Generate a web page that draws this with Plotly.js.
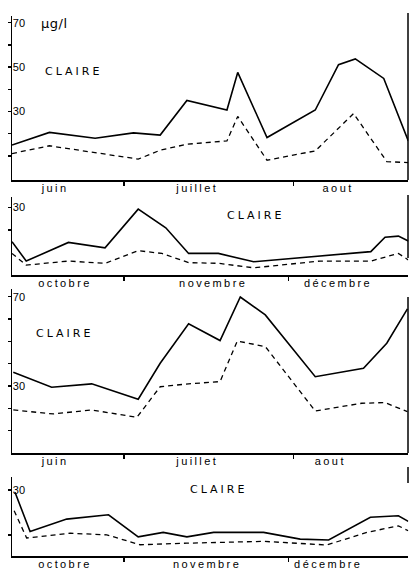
<!DOCTYPE html>
<html>
<head>
<meta charset="utf-8">
<script src="https://cdn.plot.ly/plotly-3.0.1.min.js"></script>
<style>
  html, body { margin: 0; padding: 0; background: #fff; }
  #chart { width: 410px; height: 569px; }
  g.xtick text, g.x2tick text, g.x3tick text, g.x4tick text { letter-spacing: 2.4px; }
  .annotation-text { letter-spacing: 3px; }
  g.annotation[data-index="0"] .annotation-text { letter-spacing: 0.5px; }
</style>
</head>
<body>
<div id="chart"></div>
<script>
// ---- Panel 1 : juin - aout (year 1), x = day from 1 June
const p1SolidX  = [0, 8.7, 19.3, 28.2, 34.4, 40.6, 49.9, 52.4, 59.2, 70.4, 75.8, 79.7, 86.3, 92];
const p1SolidY  = [14.9, 20.6, 18.0, 20.4, 19.4, 35.0, 30.7, 47.6, 18.3, 30.7, 51.1, 53.7, 44.9, 16.8];
const p1DashX   = [0, 8.7, 29.3, 34.4, 40.6, 49.9, 52.4, 59.2, 70.4, 79.3, 87.0, 92];
const p1DashY   = [11.1, 14.6, 8.6, 12.6, 15.3, 16.8, 27.8, 8.1, 12.3, 29.1, 7.5, 7.0];

// ---- Panel 2 : octobre - decembre (year 1), x = day from 1 October
const p2SolidX  = [0, 3.3, 13.1, 21.6, 29.3, 35.7, 41.0, 47.9, 56.1, 83.3, 86.6, 89.7, 92];
const p2SolidY  = [14.8, 6.2, 14.5, 12.1, 29.3, 21.0, 9.6, 9.6, 5.9, 10.4, 16.8, 17.3, 15.1];
const p2DashX   = [0, 3.3, 13.1, 21.6, 29.3, 34.8, 41.0, 47.9, 56.1, 71.5, 83.3, 89.7, 92];
const p2DashY   = [9.6, 4.4, 6.2, 5.2, 10.8, 9.6, 5.5, 5.2, 3.2, 6.2, 6.2, 9.6, 6.7];

// ---- Panel 3 : juin - aout (year 2)
const p3SolidX  = [0.3, 9.2, 18.5, 29.3, 34.4, 41.0, 48.3, 53.0, 58.8, 70.4, 81.6, 87.0, 91.8];
const p3SolidY  = [36.2, 29.5, 31.0, 24.1, 40.2, 57.9, 50.4, 69.9, 61.9, 34.2, 38.0, 49.2, 64.6];
const p3DashX   = [0.3, 9.6, 18.5, 29.0, 34.4, 41.0, 48.3, 52.3, 58.8, 70.4, 81.2, 86.6, 91.8];
const p3DashY   = [19.3, 17.5, 19.3, 16.0, 29.7, 31.0, 32.0, 50.2, 47.7, 18.8, 22.3, 22.6, 18.5];

// ---- Panel 4 : octobre - decembre (year 2)
const p4SolidX  = [0.7, 4.2, 12.7, 22.4, 29.3, 35.1, 40.6, 46.8, 58.4, 66.9, 73.5, 83.2, 89.7, 92];
const p4SolidY  = [29.0, 11.6, 17.1, 19.0, 9.2, 11.2, 9.2, 11.2, 11.2, 8.2, 7.8, 17.9, 18.6, 16.1];
const p4DashX   = [0.5, 3.4, 13.5, 22.0, 29.7, 40.6, 58.4, 73.1, 82.4, 89.7, 92];
const p4DashY   = [20.8, 8.7, 10.8, 10.1, 5.7, 6.4, 7.2, 5.6, 11.2, 14.1, 11.9];

// ---- Tick labels
const summerMonths    = ["juin", "juillet", "aout"];
const summerLabelPos  = [10, 43, 75.7];
const summerLabelPos2 = [10, 43, 73.9];
const summerBounds    = [26.0, 65.3];
const autumnMonths    = ["octobre", "novembre", "décembre"];
const autumnLabelPos  = [12.3, 46.7, 75.7];
const autumnLabelPos2 = [12.3, 45.3, 73.4];
const autumnBounds    = [26.0, 64.1];

const y1TickVals = [10, 20, 30, 40, 50, 60, 70];
const y1TickText = ["", "", "30", "", "50", "", "70"];
const y2TickVals = [20, 30];
const y2TickText = ["", "30"];
const y3TickVals = [10, 20, 30, 40, 50, 60, 70];
const y3TickText = ["", "", "30", "", "", "", "70"];
const y4TickVals = [10, 30];
const y4TickText = ["", "30"];

const unitLabel = "μg/l";
const stationLabel = "CLAIRE";

// ---- geometry helpers (pixel -> paper)
const H = 569, W = 410;
const py = p => 1 - p / H;
const px = p => p / W;

const solid = {color: "#000", width: 1.6};
const dashed = {color: "#000", width: 1.3, dash: "5px,4px"};

function tr(x, y, line, ax) {
  return {x: x, y: y, type: "scatter", mode: "lines", line: line,
          xaxis: "x" + ax, yaxis: "y" + ax, hoverinfo: "skip", showlegend: false};
}

const data = [
  tr(p1SolidX, p1SolidY, solid, ""), tr(p1DashX, p1DashY, dashed, ""),
  tr(p2SolidX, p2SolidY, solid, "2"), tr(p2DashX, p2DashY, dashed, "2"),
  tr(p3SolidX, p3SolidY, solid, "3"), tr(p3DashX, p3DashY, dashed, "3"),
  tr(p4SolidX, p4SolidY, solid, "4"), tr(p4DashX, p4DashY, dashed, "4")
];

const tickFont = {family: "Liberation Sans, Arial, sans-serif", size: 11, color: "#000000"};

function xa(anchor, labels, pos, bounds) {
  return {
    domain: [px(12), px(408.3)], range: [0, 92], anchor: anchor,
    showgrid: false, zeroline: false, showline: true, linecolor: "#000", linewidth: 1.5,
    tickmode: "array", tickvals: pos, ticktext: labels, ticks: "",
    tickfont: tickFont, ticklabelstandoff: -3,
    minor: {tickmode: "array", tickvals: bounds, ticks: "outside", ticklen: 4,
            tickwidth: 1.2, tickcolor: "#000", showgrid: false},
    fixedrange: true
  };
}
function ya(anchor, top, bottom, range, tv, tt) {
  return {
    domain: [py(bottom), py(top)], range: range, anchor: anchor,
    showgrid: false, zeroline: false, showline: true, linecolor: "#000", linewidth: 1.5,
    tickmode: "array", tickvals: tv, ticktext: tt,
    ticks: "outside", ticklen: 3, tickwidth: 1.3, tickcolor: "#000",
    ticklabelposition: "inside", tickfont: tickFont, fixedrange: true
  };
}

function rightLine(top, bottom) {
  return {type: "line", xref: "paper", yref: "paper", x0: px(408), x1: px(408),
          y0: py(top), y1: py(bottom), line: {color: "#000", width: 1.5}};
}

const annFont = {family: "DejaVu Sans, sans-serif", size: 11, color: "#000"};
function claire(x, y) {
  return {text: stationLabel, xref: "paper", yref: "paper", x: px(x), y: py(y),
          xanchor: "center", yanchor: "middle", showarrow: false, font: annFont};
}

const layout = {
  width: W, height: H,
  margin: {l: 0, r: 0, t: 0, b: 0},
  paper_bgcolor: "#fff", plot_bgcolor: "#fff",
  showlegend: false,
  xaxis:  xa("y",  summerMonths, summerLabelPos, summerBounds),
  yaxis:  ya("x",  16, 180, [-0.8, 73.0], y1TickVals, y1TickText),
  xaxis2: xa("y2", autumnMonths, autumnLabelPos, autumnBounds),
  yaxis2: ya("x2", 197, 275, [0, 34.7], y2TickVals, y2TickText),
  xaxis3: xa("y3", summerMonths, summerLabelPos2, summerBounds),
  yaxis3: ya("x3", 289, 453, [0, 73.5], y3TickVals, y3TickText),
  xaxis4: xa("y4", autumnMonths, autumnLabelPos2, autumnBounds),
  yaxis4: ya("x4", 477, 556, [0.7, 35.8], y4TickVals, y4TickText),
  shapes: [rightLine(13, 180), rightLine(195, 258), rightLine(297, 453), rightLine(467, 483)],
  annotations: [
    {text: unitLabel, xref: "paper", yref: "paper", x: px(54), y: py(23),
     xanchor: "center", yanchor: "middle", showarrow: false,
     font: {family: "DejaVu Sans, sans-serif", size: 13, color: "#000"}},
    claire(73, 71), claire(255, 216), claire(64, 333), claire(218, 489)
  ]
};

Plotly.newPlot("chart", data, layout, {staticPlot: true, displayModeBar: false});
</script>
</body>
</html>
